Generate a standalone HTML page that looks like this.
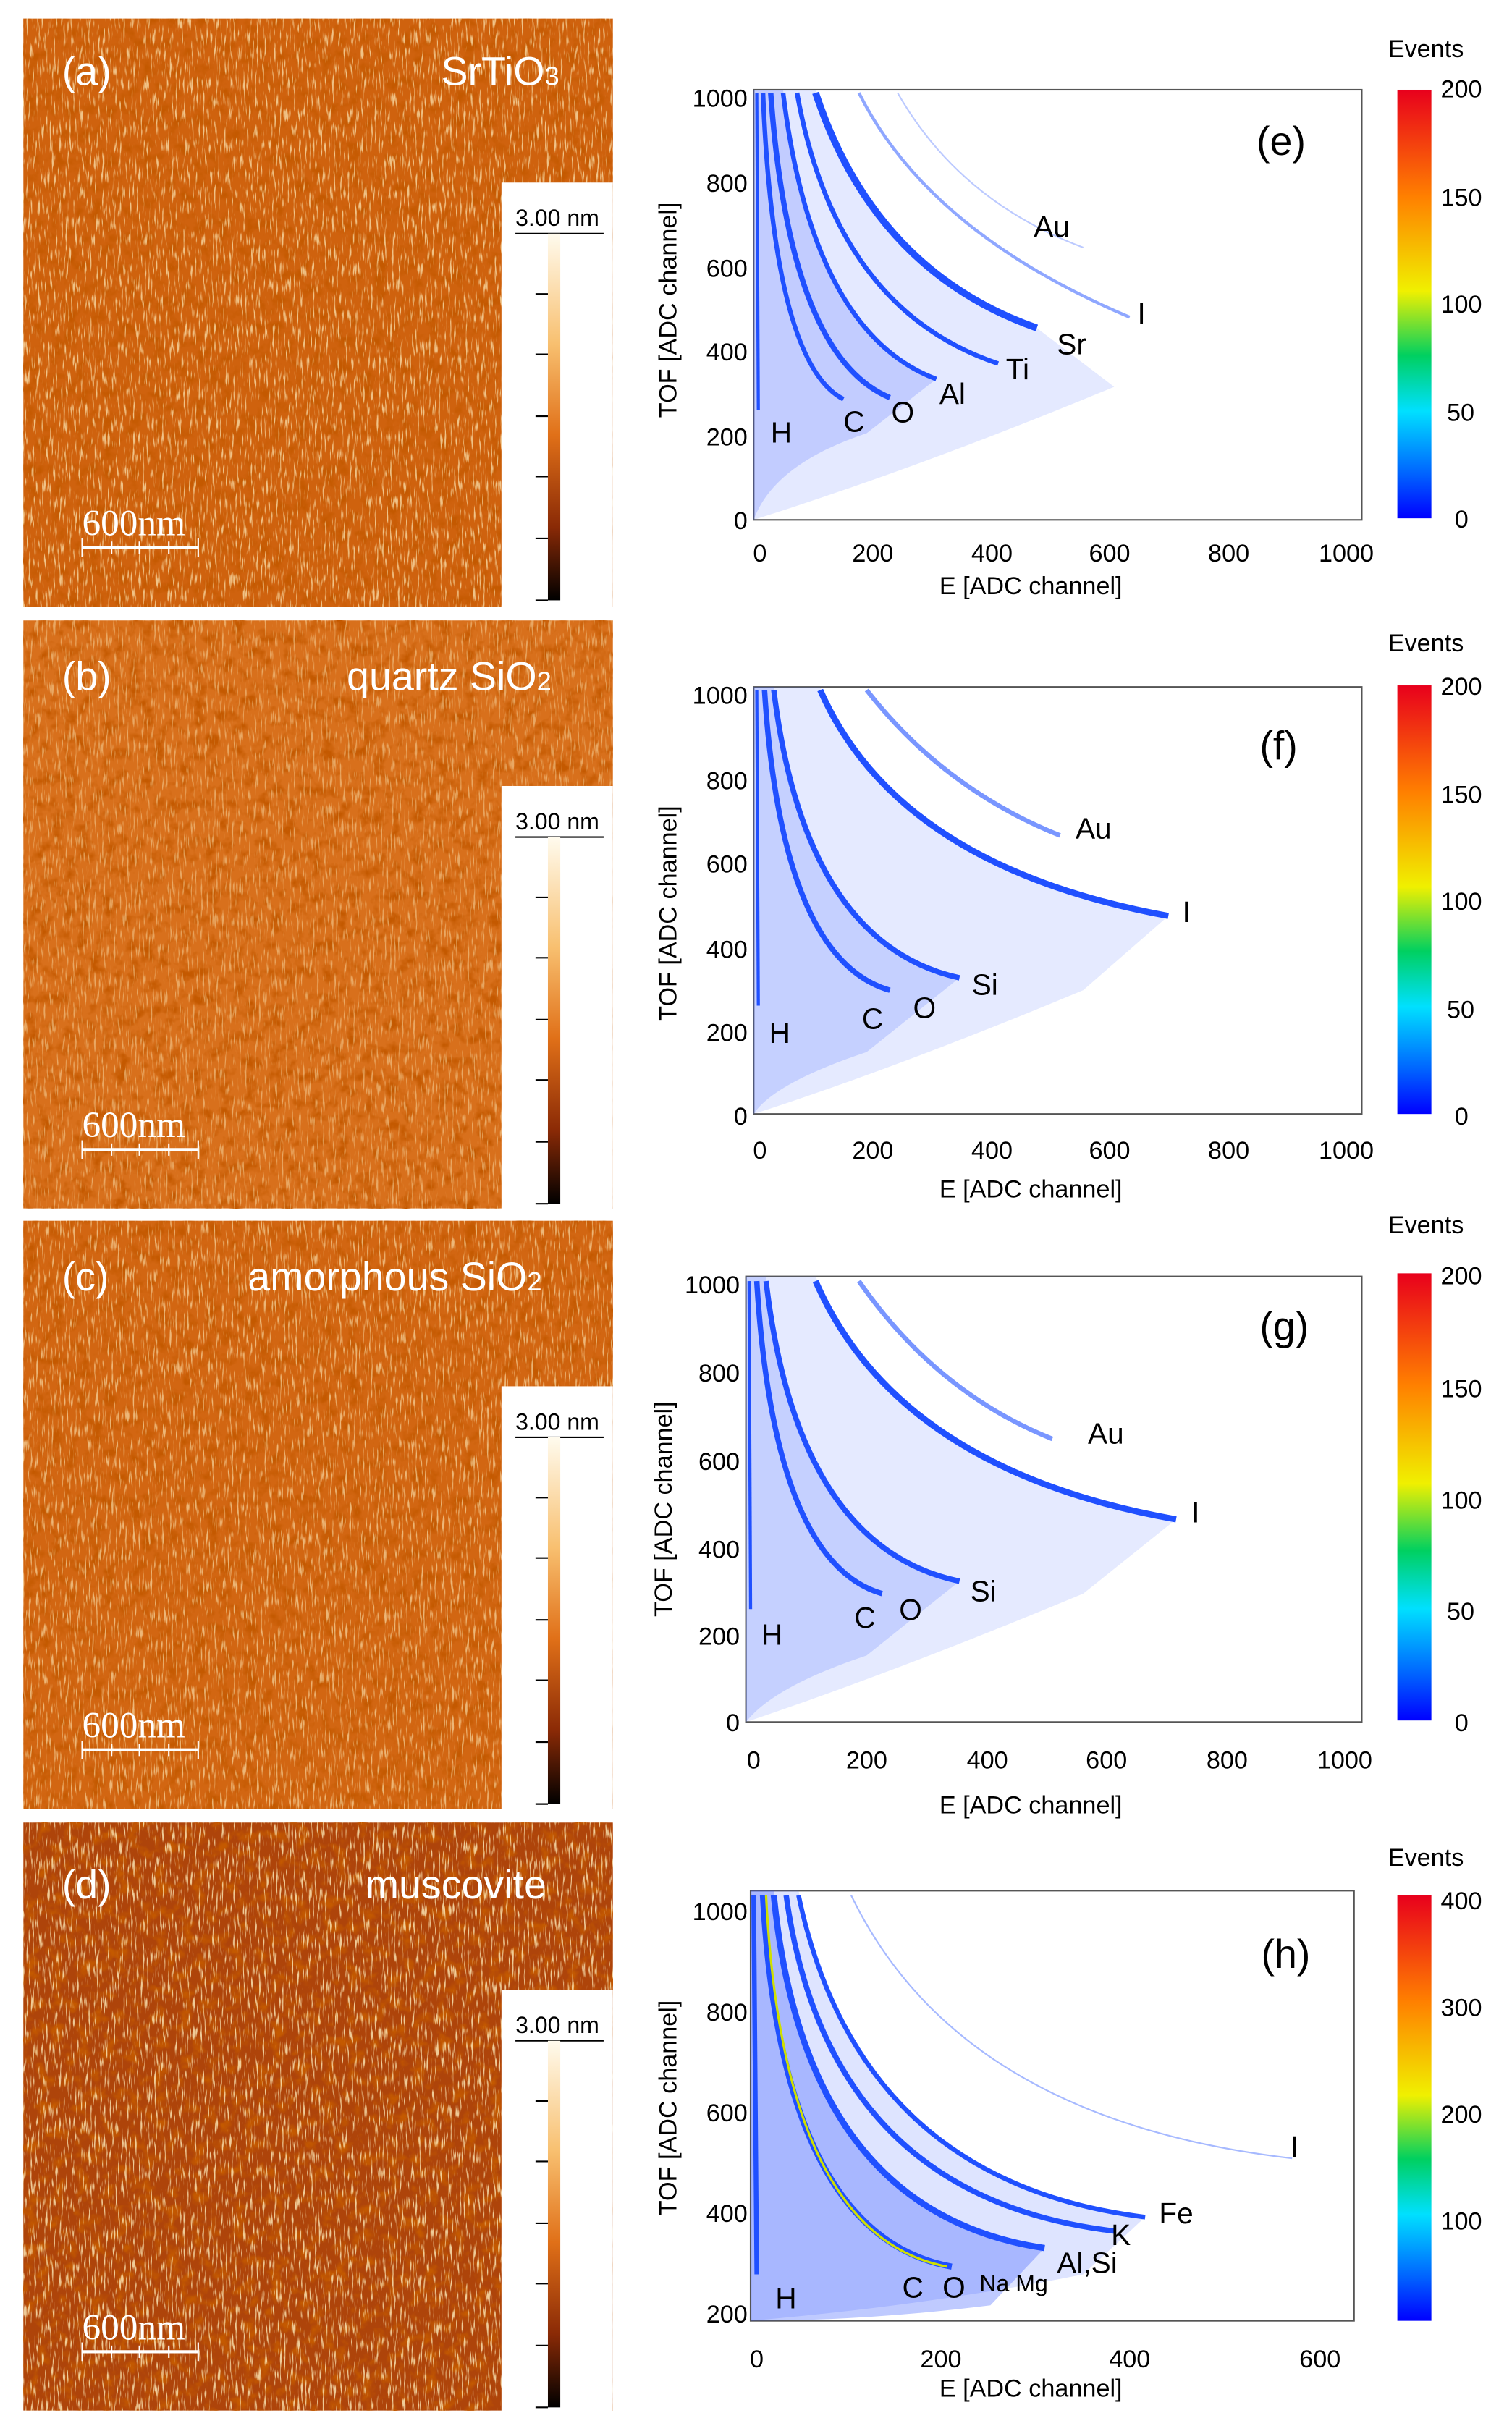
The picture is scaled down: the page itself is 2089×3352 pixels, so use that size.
<!DOCTYPE html>
<html><head><meta charset="utf-8"><style>html,body{margin:0;padding:0;background:#fff}svg{display:block}</style></head>
<body>
<svg xmlns="http://www.w3.org/2000/svg" width="2089" height="3352" viewBox="0 0 977 1568" font-family="Liberation Sans, Arial, sans-serif">
<defs>
<filter id="nz" x="0" y="0" width="100%" height="100%">
<feTurbulence type="fractalNoise" baseFrequency="0.8 0.1" numOctaves="2" seed="3"/>
<feColorMatrix type="matrix" values="0 0 0 0 1  0 0 0 0 0.85  0 0 0 0 0.5  0 0 0 6 -3.4"/>
</filter>
<filter id="nz2" x="0" y="0" width="100%" height="100%">
<feTurbulence type="fractalNoise" baseFrequency="0.12" numOctaves="3" seed="7"/>
<feColorMatrix type="matrix" values="0 0 0 0 0.55  0 0 0 0 0.1  0 0 0 0 0  0 0 0 -3 1.6"/>
</filter>
<linearGradient id="afm" x1="0" y1="0" x2="0" y2="1">
<stop offset="0" stop-color="#fffbee"/><stop offset="0.3" stop-color="#f8c070"/><stop offset="0.55" stop-color="#e07018"/><stop offset="0.8" stop-color="#8a2a06"/><stop offset="1" stop-color="#000"/>
</linearGradient>
<linearGradient id="jet" x1="0" y1="0" x2="0" y2="1">
<stop offset="0" stop-color="#e8001c"/><stop offset="0.25" stop-color="#ff8000"/><stop offset="0.47" stop-color="#f0f000"/><stop offset="0.62" stop-color="#00d060"/><stop offset="0.75" stop-color="#00e0ff"/><stop offset="0.9" stop-color="#0060ff"/><stop offset="1" stop-color="#0000ff"/>
</linearGradient>
<g id="cbar">
<rect x="0" y="0" width="72" height="274" fill="#fff"/>
<text x="9" y="28" font-size="15">3.00 nm</text>
<line x1="9" y1="33" x2="66" y2="33" stroke="#000"/>
<rect x="30" y="33" width="8" height="237" fill="url(#afm)"/>
<g stroke="#000"><line x1="22" y1="72" x2="30" y2="72"/><line x1="22" y1="111" x2="30" y2="111"/><line x1="22" y1="151" x2="30" y2="151"/><line x1="22" y1="190" x2="30" y2="190"/><line x1="22" y1="230" x2="30" y2="230"/><line x1="22" y1="270" x2="30" y2="270"/></g>
</g>
<g id="sbar" fill="#fff" stroke="#fff">
<text x="53" y="346" font-family="Liberation Serif, serif" font-size="24" stroke="none">600nm</text>
<line x1="53" y1="354" x2="128" y2="354" stroke-width="2"/>
<line x1="53" y1="348" x2="53" y2="360"/><line x1="128" y1="348" x2="128" y2="360"/>
<line x1="72" y1="350" x2="72" y2="358"/><line x1="90" y1="350" x2="90" y2="358"/><line x1="109" y1="350" x2="109" y2="358"/>
</g>
</defs>

<!-- AFM panels -->
<g>
<rect x="15" y="12" width="381" height="380" fill="#cf620e"/>
<rect x="15" y="12" width="381" height="380" filter="url(#nz2)"/>
<rect x="15" y="12" width="381" height="380" filter="url(#nz)" opacity="0.7"/>
<use href="#cbar" x="324" y="118"/><use href="#sbar"/>
<text x="40" y="55" font-size="26" fill="#fff">(a)</text>
<text x="285" y="55" font-size="26" fill="#fff">SrTiO<tspan font-size="17">3</tspan></text>
</g>
<g>
<rect x="15" y="401" width="381" height="380" fill="#d8701c"/>
<rect x="15" y="401" width="381" height="380" filter="url(#nz2)"/>
<rect x="15" y="401" width="381" height="380" filter="url(#nz)" opacity="0.45"/>
<use href="#cbar" x="324" y="508"/><use href="#sbar" y="389"/>
<text x="40" y="446" font-size="26" fill="#fff">(b)</text>
<text x="224" y="446" font-size="26" fill="#fff">quartz SiO<tspan font-size="17">2</tspan></text>
</g>
<g>
<rect x="15" y="789" width="381" height="380" fill="#d26612"/>
<rect x="15" y="789" width="381" height="380" filter="url(#nz2)"/>
<rect x="15" y="789" width="381" height="380" filter="url(#nz)" opacity="0.6"/>
<use href="#cbar" x="324" y="896"/><use href="#sbar" y="777"/>
<text x="40" y="834" font-size="26" fill="#fff">(c)</text>
<text x="160" y="834" font-size="26" fill="#fff">amorphous SiO<tspan font-size="17">2</tspan></text>
</g>
<g>
<rect x="15" y="1178" width="381" height="380" fill="#ae440a"/>
<rect x="15" y="1178" width="381" height="380" filter="url(#nz2)"/>
<rect x="15" y="1178" width="381" height="380" filter="url(#nz)" opacity="0.8"/>
<use href="#cbar" x="324" y="1286"/><use href="#sbar" y="1166"/>
<text x="40" y="1227" font-size="26" fill="#fff">(d)</text>
<text x="236" y="1227" font-size="26" fill="#fff">muscovite</text>
</g>

<!-- Plot e -->
<g font-size="16">
<rect x="487" y="58" width="393" height="278" fill="none" stroke="#555"/>
<path d="M487,58 L527,58 Q565,175 670,212 L720,250 Q600,300 487,336Z" fill="#4a6cff" opacity="0.15"/>
<path d="M487,58 L506,58 Q525,215 605,245 L560,280 Q500,300 487,336Z" fill="#3a5cff" opacity="0.2"/>
<g fill="none" stroke="#2050ff">
<path d="M489,60 L490,265" stroke-width="2"/>
<path d="M493,60 Q500,235 545,258" stroke-width="3"/>
<path d="M498,60 Q510,230 575,257" stroke-width="3.5"/>
<path d="M506,60 Q525,215 605,245" stroke-width="3"/>
<path d="M515,60 Q540,200 645,235" stroke-width="3"/>
<path d="M527,60 Q565,175 670,212" stroke-width="4.5"/>
<path d="M555,60 Q600,150 730,205" stroke-width="2" opacity="0.5"/>
<path d="M580,60 Q620,130 700,160" stroke-width="1" opacity="0.3"/>
</g>
<text x="812" y="100" font-size="26">(e)</text>
<text x="668" y="153" font-size="19">Au</text><text x="735" y="209" font-size="19">I</text>
<text x="683" y="229" font-size="19">Sr</text><text x="650" y="245" font-size="19">Ti</text>
<text x="607" y="261" font-size="19">Al</text><text x="576" y="273" font-size="19">O</text>
<text x="545" y="279" font-size="19">C</text><text x="498" y="286" font-size="19">H</text>
<g text-anchor="end"><text x="483" y="69">1000</text><text x="483" y="124">800</text><text x="483" y="179">600</text><text x="483" y="233">400</text><text x="483" y="288">200</text><text x="483" y="342">0</text></g>
<g text-anchor="middle"><text x="491" y="363">0</text><text x="564" y="363">200</text><text x="641" y="363">400</text><text x="717" y="363">600</text><text x="794" y="363">800</text><text x="870" y="363">1000</text></g>
<text x="607" y="384">E   [ADC channel]</text>
<text transform="translate(437,270) rotate(-90)">TOF  [ADC channel]</text>
<rect x="903" y="58" width="22" height="277" fill="url(#jet)"/>
<text x="897" y="37">Events</text>
<g><text x="931" y="63">200</text><text x="931" y="133">150</text><text x="931" y="202">100</text><text x="935" y="272">50</text><text x="940" y="341">0</text></g>
</g>

<!-- Plot f -->
<g font-size="16">
<rect x="487" y="444" width="393" height="276" fill="none" stroke="#555"/>
<path d="M487,444 L530,444 Q580,560 755,592 L700,640 Q580,690 487,720Z" fill="#4a6cff" opacity="0.14"/>
<path d="M487,444 L500,444 Q520,610 620,632 L560,680 Q500,700 487,720Z" fill="#3a5cff" opacity="0.18"/>
<g fill="none" stroke="#2050ff">
<path d="M489,446 L490,650" stroke-width="2"/>
<path d="M494,446 Q505,620 575,640" stroke-width="3.5"/>
<path d="M500,446 Q520,610 620,632" stroke-width="3.5"/>
<path d="M530,446 Q580,560 755,592" stroke-width="4"/>
<path d="M560,446 Q610,510 685,540" stroke-width="3" opacity="0.6"/>
</g>
<text x="814" y="491" font-size="26">(f)</text>
<text x="695" y="542" font-size="19">Au</text><text x="764" y="596" font-size="19">I</text>
<text x="628" y="643" font-size="19">Si</text><text x="590" y="658" font-size="19">O</text>
<text x="557" y="665" font-size="19">C</text><text x="497" y="674" font-size="19">H</text>
<g text-anchor="end"><text x="483" y="455">1000</text><text x="483" y="510">800</text><text x="483" y="564">600</text><text x="483" y="619">400</text><text x="483" y="673">200</text><text x="483" y="727">0</text></g>
<g text-anchor="middle"><text x="491" y="749">0</text><text x="564" y="749">200</text><text x="641" y="749">400</text><text x="717" y="749">600</text><text x="794" y="749">800</text><text x="870" y="749">1000</text></g>
<text x="607" y="774">E   [ADC channel]</text>
<text transform="translate(437,660) rotate(-90)">TOF  [ADC channel]</text>
<rect x="903" y="443" width="22" height="277" fill="url(#jet)"/>
<text x="897" y="421">Events</text>
<g><text x="931" y="449">200</text><text x="931" y="519">150</text><text x="931" y="588">100</text><text x="935" y="658">50</text><text x="940" y="727">0</text></g>
</g>

<!-- Plot g -->
<g font-size="16">
<rect x="482" y="825" width="398" height="288" fill="none" stroke="#555"/>
<path d="M482,825 L527,825 Q580,950 760,982 L700,1030 Q580,1080 482,1113Z" fill="#4a6cff" opacity="0.14"/>
<path d="M482,825 L495,825 Q515,1000 620,1022 L560,1070 Q500,1090 482,1113Z" fill="#3a5cff" opacity="0.18"/>
<g fill="none" stroke="#2050ff">
<path d="M484,828 L485,1040" stroke-width="2"/>
<path d="M489,828 Q500,1010 570,1030" stroke-width="3.5"/>
<path d="M495,828 Q515,1000 620,1022" stroke-width="3.5"/>
<path d="M527,828 Q580,950 760,982" stroke-width="4"/>
<path d="M555,828 Q605,900 680,930" stroke-width="3" opacity="0.6"/>
</g>
<text x="814" y="866" font-size="26">(g)</text>
<text x="703" y="933" font-size="19">Au</text><text x="770" y="984" font-size="19">I</text>
<text x="627" y="1035" font-size="19">Si</text><text x="581" y="1047" font-size="19">O</text>
<text x="552" y="1052" font-size="19">C</text><text x="492" y="1063" font-size="19">H</text>
<g text-anchor="end"><text x="478" y="836">1000</text><text x="478" y="893">800</text><text x="478" y="950">600</text><text x="478" y="1007">400</text><text x="478" y="1063">200</text><text x="478" y="1119">0</text></g>
<g text-anchor="middle"><text x="487" y="1143">0</text><text x="560" y="1143">200</text><text x="638" y="1143">400</text><text x="715" y="1143">600</text><text x="793" y="1143">800</text><text x="869" y="1143">1000</text></g>
<text x="607" y="1172">E   [ADC channel]</text>
<text transform="translate(434,1045) rotate(-90)">TOF  [ADC channel]</text>
<rect x="903" y="823" width="22" height="289" fill="url(#jet)"/>
<text x="897" y="797">Events</text>
<g><text x="931" y="830">200</text><text x="931" y="903">150</text><text x="931" y="975">100</text><text x="935" y="1047">50</text><text x="940" y="1119">0</text></g>
</g>

<!-- Plot h -->
<g font-size="16">
<rect x="485" y="1222" width="390" height="278" fill="none" stroke="#555"/>
<path d="M485,1222 L516,1222 Q555,1410 740,1433 L700,1470 Q600,1490 485,1500Z" fill="#4a6cff" opacity="0.18"/>
<path d="M485,1222 L500,1222 Q520,1430 675,1453 L640,1490 Q560,1500 485,1500Z" fill="#2a50ff" opacity="0.3"/>
<g fill="none" stroke="#2050ff">
<path d="M487,1225 L489,1470" stroke-width="3"/>
<path d="M493,1225 Q505,1445 615,1465" stroke-width="4"/>
<path d="M500,1225 Q520,1430 675,1453" stroke-width="4"/>
<path d="M508,1225 Q535,1420 720,1442" stroke-width="3.5"/>
<path d="M516,1225 Q555,1410 740,1433" stroke-width="3"/>
<path d="M550,1225 Q620,1370 835,1395" stroke-width="1" opacity="0.4"/>
</g>
<path d="M495,1225 Q506,1445 612,1465" fill="none" stroke="#d0e000" stroke-width="1.5"/>
<text x="815" y="1272" font-size="26">(h)</text>
<text x="834" y="1394" font-size="19">I</text><text x="749" y="1437" font-size="19">Fe</text>
<text x="718" y="1451" font-size="19">K</text><text x="683" y="1469" font-size="19">Al,Si</text>
<text x="633" y="1481" font-size="15">Na Mg</text><text x="609" y="1485" font-size="19">O</text>
<text x="583" y="1485" font-size="19">C</text><text x="501" y="1492" font-size="19">H</text>
<g text-anchor="end"><text x="483" y="1241">1000</text><text x="483" y="1306">800</text><text x="483" y="1371">600</text><text x="483" y="1436">400</text><text x="483" y="1501">200</text></g>
<g text-anchor="middle"><text x="489" y="1530">0</text><text x="608" y="1530">200</text><text x="730" y="1530">400</text><text x="853" y="1530">600</text></g>
<text x="607" y="1549">E   [ADC channel]</text>
<text transform="translate(437,1432) rotate(-90)">TOF  [ADC channel]</text>
<rect x="903" y="1225" width="22" height="275" fill="url(#jet)"/>
<text x="897" y="1206">Events</text>
<g><text x="931" y="1234">400</text><text x="931" y="1303">300</text><text x="931" y="1372">200</text><text x="931" y="1441">100</text></g>
</g>
</svg>
</body></html>
